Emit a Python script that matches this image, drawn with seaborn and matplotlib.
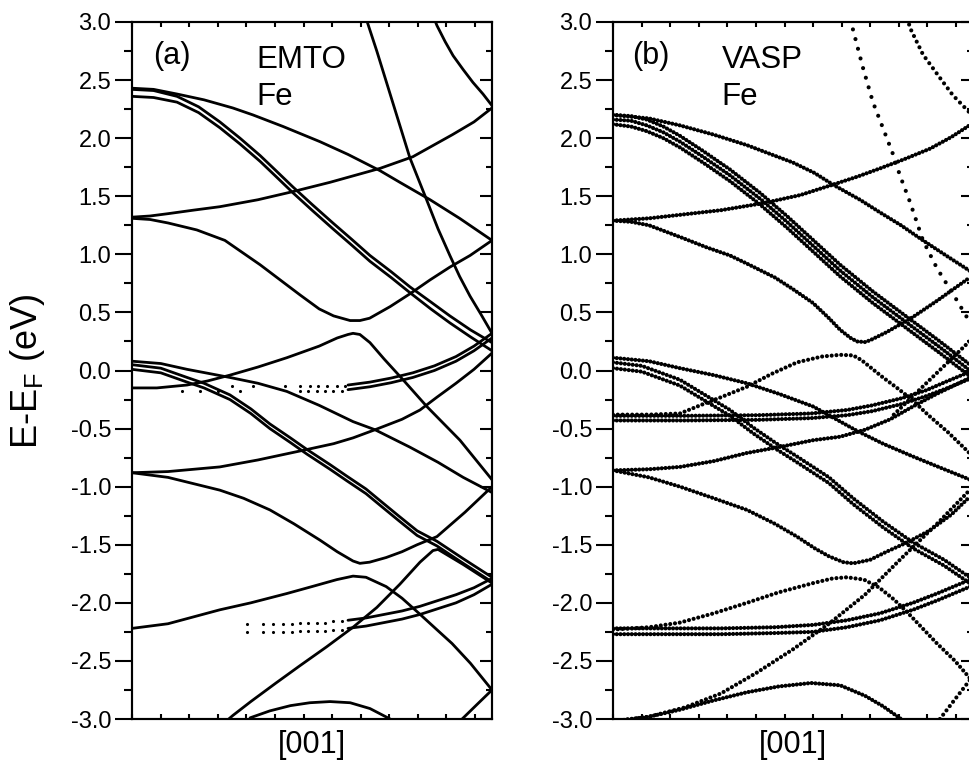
import numpy as np
import matplotlib
matplotlib.use("Agg")
import matplotlib.pyplot as plt
from matplotlib.ticker import MultipleLocator, FormatStrFormatter
import seaborn as sns

# ---------------- panel (a): EMTO bands, k along [001] scaled 0..1, E-E_F in eV
emto_a1_k = [0.0, 0.06, 0.125, 0.2, 0.28, 0.336, 0.42, 0.522, 0.6, 0.689, 0.744, 0.828, 0.91, 1.0]
emto_a1_e = [2.43, 2.42, 2.38, 2.33, 2.26, 2.20, 2.10, 1.97, 1.86, 1.72, 1.62, 1.47, 1.31, 1.12]

emto_d1_k = [0.0, 0.06, 0.125, 0.185, 0.244, 0.3, 0.356, 0.4, 0.447, 0.5, 0.558, 0.61, 0.661, 0.72, 0.772, 0.83, 0.883, 0.94, 1.0]
emto_d1a_e = [2.42, 2.41, 2.36, 2.27, 2.14, 2.00, 1.85, 1.72, 1.58, 1.43, 1.27, 1.13, 0.99, 0.85, 0.72, 0.59, 0.47, 0.35, 0.24]
emto_d1b_e = [2.36, 2.35, 2.31, 2.22, 2.09, 1.95, 1.80, 1.67, 1.53, 1.38, 1.22, 1.08, 0.94, 0.80, 0.67, 0.53, 0.41, 0.29, 0.17]

emto_r1_k = [0.0, 0.05, 0.1, 0.17, 0.244, 0.35, 0.447, 0.55, 0.689, 0.78, 0.89, 0.95, 1.0]
emto_r1_e = [1.32, 1.33, 1.35, 1.38, 1.41, 1.47, 1.54, 1.62, 1.74, 1.84, 2.03, 2.14, 2.26]

emto_u_k = [0.0, 0.05, 0.1, 0.18, 0.258, 0.356, 0.42, 0.467, 0.52, 0.56, 0.606, 0.633, 0.66, 0.717, 0.772, 0.828, 0.883, 0.939, 1.0]
emto_u_e = [1.31, 1.30, 1.27, 1.21, 1.12, 0.91, 0.76, 0.65, 0.53, 0.47, 0.43, 0.43, 0.45, 0.55, 0.66, 0.78, 0.89, 0.99, 1.12]

emto_s1_k = [0.645, 0.68, 0.72, 0.772, 0.817, 0.85, 0.883, 0.91, 0.939, 0.97, 1.0]
emto_s1_e = [3.08, 2.75, 2.35, 1.83, 1.48, 1.22, 0.99, 0.81, 0.64, 0.48, 0.32]

emto_s2_k = [0.838, 0.847, 0.87, 0.892, 0.92, 0.947, 0.975, 1.0]
emto_s2_e = [3.04, 2.97, 2.83, 2.71, 2.59, 2.48, 2.38, 2.28]

emto_d2_k = [0.6, 0.661, 0.72, 0.78, 0.84, 0.9, 0.95, 1.0]
emto_d2a_e = [-0.125, -0.10, -0.065, -0.02, 0.04, 0.12, 0.21, 0.32]
emto_d2b_e = [-0.165, -0.14, -0.105, -0.06, 0.0, 0.08, 0.17, 0.28]

# sparse EMTO points (unconverged k-points)
emto_d2_dots_hi_k = [0.278, 0.336, 0.425, 0.467, 0.494, 0.517, 0.542, 0.569, 0.592]
emto_d2_dots_hi_e = [-0.13, -0.13, -0.13, -0.13, -0.13, -0.13, -0.13, -0.13, -0.13]
emto_d2_dots_lo_k = [0.139, 0.189, 0.239, 0.3, 0.467, 0.489, 0.514, 0.536, 0.558, 0.583]
emto_d2_dots_lo_e = [-0.18, -0.18, -0.18, -0.18, -0.18, -0.18, -0.18, -0.18, -0.18, -0.18]

emto_l_k = [0.0, 0.069, 0.153, 0.21, 0.272, 0.35, 0.43, 0.52, 0.57, 0.6, 0.614, 0.633, 0.661, 0.7, 0.753, 0.819, 0.911, 1.0]
emto_l_e = [-0.15, -0.15, -0.125, -0.09, -0.04, 0.03, 0.11, 0.21, 0.28, 0.31, 0.32, 0.31, 0.24, 0.10, -0.08, -0.31, -0.6, -0.94]

emto_m1_k = [0.0, 0.08, 0.153, 0.272, 0.35, 0.43, 0.52, 0.614, 0.675, 0.772, 0.85, 0.92, 1.0]
emto_m1_e = [0.08, 0.06, 0.01, -0.06, -0.11, -0.18, -0.30, -0.44, -0.51, -0.66, -0.79, -0.92, -1.05]

emto_d3_k = [0.0, 0.08, 0.153, 0.2, 0.272, 0.33, 0.383, 0.44, 0.486, 0.55, 0.597, 0.65, 0.689, 0.74, 0.792, 0.847, 0.92, 1.0]
emto_d3a_e = [0.05, 0.02, -0.06, -0.11, -0.21, -0.33, -0.46, -0.58, -0.68, -0.81, -0.91, -1.02, -1.12, -1.25, -1.38, -1.47, -1.62, -1.78]
emto_d3b_e = [0.01, -0.02, -0.10, -0.15, -0.25, -0.37, -0.50, -0.62, -0.72, -0.85, -0.95, -1.06, -1.16, -1.29, -1.42, -1.51, -1.66, -1.82]

emto_r2_k = [0.0, 0.1, 0.244, 0.35, 0.486, 0.56, 0.614, 0.675, 0.75, 0.8, 0.847, 0.9, 0.95, 1.0]
emto_r2_e = [-0.88, -0.87, -0.83, -0.77, -0.68, -0.63, -0.58, -0.51, -0.42, -0.34, -0.23, -0.11, 0.01, 0.15]

emto_u2_k = [0.0, 0.1, 0.244, 0.31, 0.383, 0.45, 0.522, 0.57, 0.614, 0.633, 0.66, 0.706, 0.75, 0.792, 0.847, 0.925, 1.0]
emto_u2_e = [-0.88, -0.92, -1.03, -1.10, -1.20, -1.32, -1.46, -1.56, -1.64, -1.66, -1.65, -1.61, -1.56, -1.50, -1.43, -1.22, -1.0]

emto_s3_k = [0.25, 0.28, 0.33, 0.4, 0.467, 0.54, 0.614, 0.68, 0.744, 0.8, 0.836, 0.85, 0.92, 1.0]
emto_s3_e = [-3.05, -2.97, -2.85, -2.69, -2.54, -2.38, -2.21, -2.04, -1.84, -1.65, -1.55, -1.54, -1.67, -1.83]

emto_l2_k = [0.0, 0.1, 0.244, 0.33, 0.43, 0.5, 0.569, 0.614, 0.65, 0.706, 0.75, 0.797, 0.85, 0.889, 0.94, 1.0]
emto_l2_e = [-2.22, -2.18, -2.06, -2.0, -1.92, -1.86, -1.80, -1.77, -1.78, -1.86, -1.96, -2.09, -2.24, -2.35, -2.52, -2.75]

emto_d4_k = [0.6, 0.65, 0.7, 0.75, 0.8, 0.85, 0.9, 0.95, 1.0]
emto_d4a_e = [-2.15, -2.13, -2.10, -2.07, -2.03, -1.98, -1.93, -1.87, -1.79]
emto_d4b_e = [-2.22, -2.20, -2.17, -2.14, -2.10, -2.05, -2.00, -1.93, -1.84]
emto_d4_dots_k = [0.32, 0.364, 0.392, 0.42, 0.444, 0.467, 0.489, 0.514, 0.536, 0.558, 0.583]
emto_d4_dots_hi_e = [-2.18, -2.18, -2.18, -2.18, -2.18, -2.17, -2.17, -2.17, -2.17, -2.16, -2.16]
emto_d4_dots_lo_e = [-2.25, -2.25, -2.25, -2.25, -2.25, -2.24, -2.24, -2.24, -2.24, -2.23, -2.23]

emto_b1_k = [0.328, 0.383, 0.44, 0.494, 0.55, 0.606, 0.661, 0.717]
emto_b1_e = [-2.99, -2.93, -2.885, -2.86, -2.85, -2.86, -2.91, -3.0]

emto_s4_k = [0.917, 0.96, 1.0]
emto_s4_e = [-3.0, -2.87, -2.75]

# ---------------- panel (b): VASP bands
vasp_a1_k = [0.0, 0.1, 0.186, 0.28, 0.372, 0.44, 0.5, 0.56, 0.611, 0.686, 0.742, 0.8, 0.861, 0.93, 1.0]
vasp_a1_e = [2.20, 2.17, 2.11, 2.03, 1.94, 1.86, 1.79, 1.70, 1.60, 1.47, 1.36, 1.25, 1.12, 0.98, 0.84]

vasp_d1_k = [0.0, 0.05, 0.094, 0.14, 0.186, 0.25, 0.325, 0.408, 0.483, 0.55, 0.631, 0.722, 0.817, 0.908, 1.0]
vasp_d1a_e = [2.20, 2.19, 2.16, 2.10, 2.02, 1.89, 1.73, 1.53, 1.33, 1.14, 0.91, 0.68, 0.46, 0.25, 0.03]
vasp_d1b_e = [2.16, 2.15, 2.11, 2.05, 1.97, 1.84, 1.68, 1.48, 1.28, 1.09, 0.86, 0.63, 0.41, 0.20, -0.02]
vasp_d1c_e = [2.12, 2.10, 2.06, 2.00, 1.92, 1.79, 1.63, 1.43, 1.23, 1.04, 0.81, 0.58, 0.36, 0.15, -0.07]

vasp_r1_k = [0.0, 0.1, 0.186, 0.3, 0.417, 0.52, 0.611, 0.68, 0.742, 0.81, 0.881, 0.94, 1.0]
vasp_r1_e = [1.29, 1.31, 1.34, 1.38, 1.44, 1.51, 1.60, 1.67, 1.74, 1.82, 1.91, 2.01, 2.13]

vasp_u_k = [0.0, 0.05, 0.1, 0.194, 0.26, 0.325, 0.372, 0.45, 0.5, 0.556, 0.6, 0.631, 0.66, 0.678, 0.7, 0.714, 0.76, 0.833, 0.9, 1.0]
vasp_u_e = [1.29, 1.28, 1.25, 1.14, 1.06, 0.99, 0.92, 0.80, 0.70, 0.58, 0.45, 0.35, 0.28, 0.25, 0.245, 0.26, 0.33, 0.46, 0.60, 0.82]

vasp_s1_k = [0.66, 0.667, 0.694, 0.722, 0.747, 0.778, 0.797, 0.825, 0.861, 0.9, 0.956, 1.0]
vasp_s1_e = [3.02, 2.93, 2.61, 2.31, 2.11, 1.86, 1.68, 1.45, 1.12, 0.88, 0.60, 0.37]

vasp_s2_k = [0.818, 0.825, 0.861, 0.908, 0.944, 1.0]
vasp_s2_e = [3.03, 2.95, 2.72, 2.52, 2.37, 2.19]

vasp_m1_k = [0.0, 0.1, 0.186, 0.28, 0.372, 0.46, 0.556, 0.62, 0.678, 0.75, 0.833, 0.92, 1.0]
vasp_m1_e = [0.11, 0.08, 0.02, -0.04, -0.11, -0.20, -0.31, -0.42, -0.52, -0.63, -0.74, -0.85, -0.95]

vasp_d3_k = [0.0, 0.08, 0.186, 0.25, 0.325, 0.389, 0.45, 0.511, 0.6, 0.667, 0.75, 0.833, 0.92, 1.0]
vasp_d3a_e = [0.07, 0.04, -0.08, -0.20, -0.34, -0.49, -0.62, -0.74, -0.92, -1.10, -1.30, -1.48, -1.63, -1.80]
vasp_d3b_e = [0.02, -0.01, -0.13, -0.25, -0.39, -0.54, -0.67, -0.79, -0.97, -1.15, -1.35, -1.53, -1.68, -1.85]

vasp_l_k = [0.0, 0.1, 0.186, 0.25, 0.3, 0.372, 0.44, 0.511, 0.58, 0.631, 0.667, 0.69, 0.714, 0.75, 0.789, 0.83, 0.878, 0.93, 1.0]
vasp_l_e = [-0.38, -0.38, -0.37, -0.29, -0.23, -0.14, -0.03, 0.07, 0.12, 0.135, 0.13, 0.09, 0.03, -0.06, -0.15, -0.25, -0.39, -0.53, -0.74]

vasp_d2_k = [0.0, 0.2, 0.4, 0.55, 0.65, 0.72, 0.8, 0.87, 0.93, 1.0]
vasp_d2a_e = [-0.39, -0.39, -0.385, -0.37, -0.34, -0.30, -0.24, -0.17, -0.09, 0.0]
vasp_d2b_e = [-0.43, -0.43, -0.425, -0.41, -0.385, -0.35, -0.29, -0.22, -0.15, -0.06]

vasp_r2_k = [0.0, 0.1, 0.186, 0.28, 0.372, 0.46, 0.556, 0.631, 0.7, 0.77, 0.833, 0.9, 1.0]
vasp_r2_e = [-0.86, -0.85, -0.83, -0.78, -0.71, -0.66, -0.60, -0.57, -0.51, -0.42, -0.31, -0.20, -0.05]

vasp_u2_k = [0.0, 0.1, 0.186, 0.28, 0.372, 0.45, 0.511, 0.56, 0.6, 0.64, 0.667, 0.714, 0.76, 0.817, 0.878, 0.94, 1.0]
vasp_u2_e = [-0.86, -0.92, -1.0, -1.1, -1.2, -1.32, -1.43, -1.53, -1.60, -1.65, -1.66, -1.63, -1.56, -1.48, -1.38, -1.24, -1.06]

vasp_l2_k = [0.0, 0.1, 0.186, 0.28, 0.372, 0.46, 0.556, 0.61, 0.65, 0.697, 0.74, 0.78, 0.817, 0.86, 0.9, 0.95, 1.0]
vasp_l2_e = [-2.23, -2.21, -2.17, -2.09, -2.0, -1.91, -1.83, -1.79, -1.78, -1.80, -1.87, -1.97, -2.08, -2.22, -2.35, -2.5, -2.68]

vasp_d4_k = [0.0, 0.3, 0.45, 0.556, 0.65, 0.742, 0.833, 0.9, 1.0]
vasp_d4a_e = [-2.22, -2.22, -2.21, -2.19, -2.15, -2.09, -2.0, -1.92, -1.79]
vasp_d4b_e = [-2.27, -2.27, -2.26, -2.25, -2.21, -2.15, -2.06, -1.98, -1.85]

vasp_s3_k = [0.0, 0.1, 0.2, 0.3, 0.4, 0.5, 0.6, 0.7, 0.8, 0.9, 1.0]
vasp_s3_e = [-3.02, -2.98, -2.90, -2.78, -2.60, -2.40, -2.18, -1.93, -1.62, -1.32, -1.0]

vasp_b1_k = [0.0, 0.1, 0.186, 0.28, 0.372, 0.46, 0.55, 0.631, 0.7, 0.75, 0.8]
vasp_b1_e = [-3.02, -2.98, -2.92, -2.84, -2.77, -2.72, -2.69, -2.71, -2.80, -2.89, -3.0]

vasp_s4_k = [0.908, 0.95, 1.0]
vasp_s4_e = [-3.0, -2.83, -2.63]

vasp_s5_k = [0.78, 0.85, 0.92, 1.0]
vasp_s5_e = [-0.38, -0.17, 0.04, 0.28]

panel_tags = ["(a)", "(b)"]
panel_codes = ["EMTO", "VASP"]
element = "Fe"
direction_label = "[001]"
y_label = "E-E$_\\mathregular{F}$ (eV)"

# band tables built from the lists above
emto_bands = [
    (emto_a1_k, emto_a1_e), (emto_d1_k, emto_d1a_e), (emto_d1_k, emto_d1b_e),
    (emto_r1_k, emto_r1_e), (emto_u_k, emto_u_e), (emto_s1_k, emto_s1_e),
    (emto_s2_k, emto_s2_e), (emto_d2_k, emto_d2a_e), (emto_d2_k, emto_d2b_e),
    (emto_l_k, emto_l_e), (emto_m1_k, emto_m1_e), (emto_d3_k, emto_d3a_e),
    (emto_d3_k, emto_d3b_e), (emto_r2_k, emto_r2_e), (emto_u2_k, emto_u2_e),
    (emto_s3_k, emto_s3_e), (emto_l2_k, emto_l2_e), (emto_d4_k, emto_d4a_e),
    (emto_d4_k, emto_d4b_e), (emto_b1_k, emto_b1_e), (emto_s4_k, emto_s4_e),
]
emto_dots = [
    (emto_d2_dots_hi_k, emto_d2_dots_hi_e), (emto_d2_dots_lo_k, emto_d2_dots_lo_e),
    (emto_d4_dots_k, emto_d4_dots_hi_e), (emto_d4_dots_k, emto_d4_dots_lo_e),
]
# third item: spacing of the VASP k-point dots, in line widths
vasp_bands = [
    (vasp_a1_k, vasp_a1_e, 0.9), (vasp_d1_k, vasp_d1a_e, 0.9), (vasp_d1_k, vasp_d1b_e, 0.9),
    (vasp_d1_k, vasp_d1c_e, 0.9), (vasp_r1_k, vasp_r1_e, 0.9), (vasp_u_k, vasp_u_e, 0.9),
    (vasp_s1_k, vasp_s1_e, 2.4), (vasp_s2_k, vasp_s2_e, 1.5), (vasp_m1_k, vasp_m1_e, 0.9),
    (vasp_d3_k, vasp_d3a_e, 0.95), (vasp_d3_k, vasp_d3b_e, 0.95), (vasp_l_k, vasp_l_e, 1.15),
    (vasp_d2_k, vasp_d2a_e, 0.9), (vasp_d2_k, vasp_d2b_e, 0.9), (vasp_r2_k, vasp_r2_e, 0.9),
    (vasp_u2_k, vasp_u2_e, 0.95), (vasp_l2_k, vasp_l2_e, 1.15), (vasp_d4_k, vasp_d4a_e, 0.9),
    (vasp_d4_k, vasp_d4b_e, 0.9), (vasp_s3_k, vasp_s3_e, 1.15), (vasp_b1_k, vasp_b1_e, 0.9),
    (vasp_s4_k, vasp_s4_e, 1.3), (vasp_s5_k, vasp_s5_e, 1.2),
]

sns.set_style("ticks")
plt.rcParams["font.family"] = ["Liberation Sans", "DejaVu Sans"]
plt.rcParams["axes.unicode_minus"] = False
plt.rcParams["mathtext.fontset"] = "custom"
plt.rcParams["mathtext.rm"] = "Liberation Sans"
plt.rcParams["mathtext.default"] = "regular"
for key in ["text.color", "axes.labelcolor", "axes.edgecolor", "xtick.color", "ytick.color"]:
    plt.rcParams[key] = "black"

fig = plt.figure(figsize=(9.7, 7.71), dpi=100)
ax_a = fig.add_axes([132 / 970, 52 / 771, 360 / 970, 697 / 771])
ax_b = fig.add_axes([613 / 970, 52 / 771, 360 / 970, 697 / 771])

for k, e in emto_bands:
    sns.lineplot(x=k, y=e, ax=ax_a, color="black", lw=2.0, sort=False,
                 estimator=None, errorbar=None, solid_capstyle="round")
for k, e in emto_dots:
    sns.scatterplot(x=k, y=e, ax=ax_a, color="black", s=5, linewidth=0, legend=False)

for k, e, gap in vasp_bands:
    sns.lineplot(x=k, y=e, ax=ax_b, color="black", lw=3.0, sort=False,
                 estimator=None, errorbar=None,
                 linestyle=(0, (0.001, gap)), dash_capstyle="round")


def style_axes(ax, tag, code, tag_x, code_x):
    ax.set_xlim(0, 1)
    ax.set_ylim(-3, 3)
    ax.set_xticks(np.arange(0, 1.0, 0.0794))
    ax.yaxis.set_major_locator(MultipleLocator(0.5))
    ax.yaxis.set_minor_locator(MultipleLocator(0.25))
    ax.yaxis.set_major_formatter(FormatStrFormatter("%.1f"))
    ax.tick_params(axis="x", which="both", direction="in", length=3.6, width=1.5,
                   top=True, bottom=True, labelbottom=False)
    ax.tick_params(axis="y", which="major", direction="out", length=12, width=1.5,
                   labelsize=17, pad=3, right=False)
    ax.tick_params(axis="y", which="minor", direction="out", length=6, width=1.5, right=False)
    for sp in ax.spines.values():
        sp.set_linewidth(1.5)
        sp.set_visible(True)
    ax.set_xlabel("")
    ax.set_ylabel("")

    # right side ticks point inward
    tw = ax.twinx()
    tw.set_ylim(-3, 3)
    tw.yaxis.set_major_locator(MultipleLocator(0.5))
    tw.yaxis.set_minor_locator(MultipleLocator(0.25))
    tw.tick_params(axis="y", which="major", direction="in", length=8.5, width=1.5, labelright=False)
    tw.tick_params(axis="y", which="minor", direction="in", length=4.3, width=1.5, labelright=False)
    for sp in tw.spines.values():
        sp.set_linewidth(1.5)

    ax.text(tag_x, 0.940, tag, transform=ax.transAxes, fontsize=22, ha="left", va="baseline")
    ax.text(code_x, 0.934, code, transform=ax.transAxes, fontsize=22.5, ha="left", va="baseline")
    ax.text(code_x, 0.881, element, transform=ax.transAxes, fontsize=22.5, ha="left", va="baseline")
    ax.text(0.5, -0.038, direction_label, transform=ax.transAxes, fontsize=22,
            ha="center", va="center")


style_axes(ax_a, panel_tags[0], panel_codes[0], 0.06, 0.345)
style_axes(ax_b, panel_tags[1], panel_codes[1], 0.052, 0.302)

fig.text(28 / 970, 1 - 371 / 771, y_label, rotation=90, fontsize=26, ha="center", va="center")

fig.savefig("out.png", dpi=100)
plt.close(fig)
